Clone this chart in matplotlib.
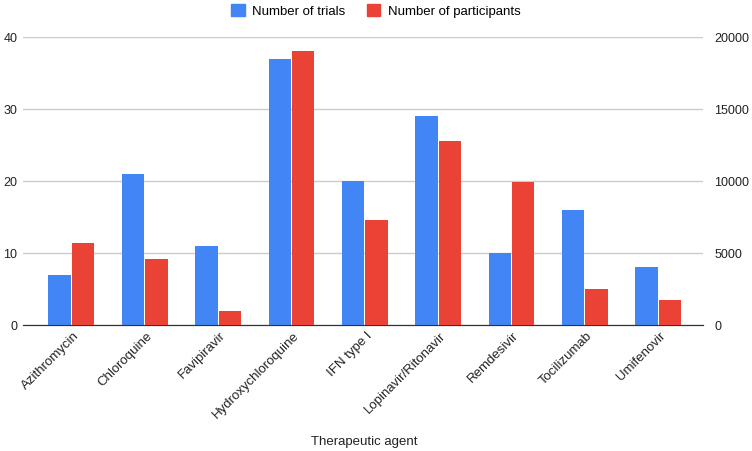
"""Trials and participants per therapeutic agent (dual-axis bar chart)."""

import matplotlib

matplotlib.use("Agg")
import matplotlib.pyplot as plt
import numpy as np
from matplotlib.patches import Patch
from matplotlib.transforms import ScaledTranslation

plt.rcParams["font.family"] = ["Liberation Sans", "DejaVu Sans"]

agents = [
    "Azithromycin",
    "Chloroquine",
    "Favipiravir",
    "Hydroxychloroquine",
    "IFN type I",
    "Lopinavir/Ritonavir",
    "Remdesivir",
    "Tocilizumab",
    "Umifenovir",
]
trials = [7, 21, 11, 37, 20, 29, 10, 16, 8]
participants = [5700, 4580, 950, 19030, 7260, 12800, 9950, 2530, 1760]

left_ticks = [0, 10, 20, 30, 40]
right_ticks = [0, 5000, 10000, 15000, 20000]

BLUE = "#4285F4"
RED = "#EA4335"
TEXT = "#222222"


def main() -> None:
    fig = plt.figure(figsize=(7.52, 4.51), dpi=100)
    ax = fig.add_axes([23 / 752, 126 / 451, 680 / 752, 288 / 451])
    ax2 = ax.twinx()

    x = np.arange(len(agents))
    width = 0.305
    ax.bar(x - 0.16, trials, width, color=BLUE, zorder=3)
    ax2.bar(x + 0.16, participants, width, color=RED, zorder=3)

    ax.set_xlim(-0.66, 8.61)
    ax.set_ylim(0, 40)
    ax2.set_ylim(0, 20000)
    ax.set_yticks(left_ticks)
    ax2.set_yticks(right_ticks)

    ax.grid(axis="y", color="#cccccc", linewidth=1, zorder=0)
    for a in (ax, ax2):
        for side in ("top", "right", "left"):
            a.spines[side].set_visible(False)
        a.spines["bottom"].set_color("#333333")
        a.tick_params(length=0, labelsize=9, colors=TEXT)
    ax.tick_params(axis="y", pad=4)
    ax2.tick_params(axis="y", pad=8)

    ax.set_xticks(x)
    ax.set_xticklabels(agents, rotation=45, ha="right", rotation_mode="anchor", fontsize=9.5)
    offset = ScaledTranslation(1 / 72, 0, fig.dpi_scale_trans)
    for label in ax.get_xticklabels():
        label.set_transform(label.get_transform() + offset)

    fig.text(0.485, 1 - 442 / 451, "Therapeutic agent", fontsize=9.5, color=TEXT,
             ha="center", va="center")

    handles = [Patch(color=BLUE), Patch(color=RED)]
    fig.legend(
        handles,
        ["Number of trials", "Number of participants"],
        loc="upper center",
        bbox_to_anchor=(0.5, 1.017),
        ncol=2,
        frameon=False,
        fontsize=9.5,
        handlelength=1.0,
        handleheight=1.0,
        handletextpad=0.6,
        columnspacing=1.6,
    )

    fig.savefig("out.png", dpi=100)
    plt.close(fig)


if __name__ == "__main__":
    main()
